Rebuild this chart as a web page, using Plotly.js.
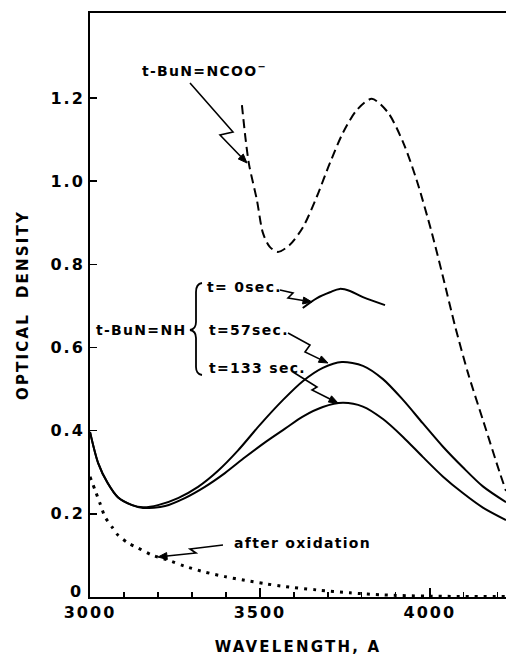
<!DOCTYPE html>
<html><head><meta charset="utf-8">
<script src="https://cdn.plot.ly/plotly-3.0.1.min.js"></script>
<style>
html,body{margin:0;padding:0;background:#fff;}
#chart{width:506px;height:658px;}
.xtitle,.ytitle{letter-spacing:2.2px;}
.xtick text,.ytick text{letter-spacing:2px;}
.annotation-text{letter-spacing:1.3px;}
</style></head><body><div id="chart"></div>
<script>
// ---- data (wavelength in Å, optical density) ----
const wlNCOO = [3447,3458,3468,3491,3509,3529,3553,3588,3627,3667,3706,3744,3785,3829,3876,3921,3961,4006,4038,4074,4112,4156,4206,4224];
const odNCOO = [1.183,1.10,1.040,0.955,0.875,0.842,0.830,0.847,0.890,0.962,1.044,1.116,1.171,1.198,1.166,1.094,1.003,0.875,0.772,0.652,0.539,0.426,0.298,0.255];

const wlT0 = [3626,3668,3706,3735,3765,3803,3868];
const odT0 = [0.695,0.719,0.733,0.741,0.736,0.721,0.702];

const wlT57 = [3000,3024,3052,3082,3124,3156,3200,3259,3318,3376,3435,3500,3568,3626,3685,3741,3803,3862,3921,3979,4038,4097,4156,4224];
const odT57 = [0.397,0.322,0.274,0.240,0.221,0.216,0.221,0.238,0.265,0.303,0.352,0.414,0.474,0.519,0.551,0.565,0.556,0.524,0.474,0.418,0.362,0.312,0.266,0.228];

const wlT133 = [3000,3024,3052,3082,3124,3156,3221,3279,3338,3397,3456,3515,3574,3626,3685,3744,3803,3862,3921,3979,4038,4097,4156,4224];
const odT133 = [0.397,0.322,0.274,0.240,0.221,0.214,0.219,0.238,0.265,0.298,0.336,0.372,0.405,0.434,0.457,0.467,0.458,0.428,0.385,0.337,0.290,0.250,0.215,0.185];

const wlOx = [3000,3015,3029,3044,3065,3082,3112,3141,3182,3229,3279,3338,3397,3456,3515,3565,3667,3765,3862,4000,4224];
const odOx = [0.289,0.257,0.226,0.193,0.168,0.149,0.130,0.118,0.101,0.089,0.074,0.060,0.049,0.040,0.032,0.026,0.017,0.010,0.005,0.002,0.001];

const xTickVals = [3000,3500,4000];
const xTickText = ['3000','3500','4000'];
const yTickVals = [0.2,0.4,0.6,0.8,1.0,1.2];
const yTickText = ['0.2','0.4','0.6','0.8','1.0','1.2'];
const yZeroLabel = '0';

// ---- layout helpers (pixel -> data for decorations) ----
const L = 90, T = 13, B = 61, W = 506, H = 658;
const XMIN = 3000, XMAX = 4224, YMIN = 0, YMAX = 1.4045;
const plotW = W - L, plotH = H - T - B;
function X(px){ return XMIN + (px - L) / plotW * (XMAX - XMIN); }
function Y(py){ return YMAX - (py - T) / plotH * (YMAX - YMIN); }
function P(q){ return X(q[0]) + ',' + Y(q[1]); }

const FONT = "DejaVu Sans";
const black = '#000';

const traces = [
  {x: wlNCOO, y: odNCOO, mode:'lines', line:{color:black, width:2, dash:'9px,5px', shape:'spline', smoothing:0.8}},
  {x: wlT0, y: odT0, mode:'lines', line:{color:black, width:2, shape:'spline'}},
  {x: wlT57, y: odT57, mode:'lines', line:{color:black, width:2, shape:'spline', smoothing:0.8}},
  {x: wlT133, y: odT133, mode:'lines', line:{color:black, width:2, shape:'spline', smoothing:0.8}},
  {x: wlOx, y: odOx, mode:'lines', line:{color:black, width:3, dash:'3px,6px', shape:'spline', smoothing:0.8}}
];

// lightning arrows: [start, kink1, kink2, tip] in pixels
const arrows = [
  [[190,83],[233,132],[220,135],[247,163]],
  [[280,290],[293,293],[288,298],[312,302]],
  [[288,333],[310,345],[305,352],[328,363]],
  [[293,372],[317,387],[312,390],[338,403]],
  [[223,545],[190,549],[196,553],[158,557]]
];
const shapes = [];
const annotations = [];
arrows.forEach(a => {
  const t = a[3], k = a[2];
  let dx = t[0]-k[0], dy = t[1]-k[1];
  const len = Math.hypot(dx,dy); dx/=len; dy/=len;
  const hl = 9, hw = 3.5;
  const base = [t[0]-dx*hl, t[1]-dy*hl];
  const p1 = [base[0]-dy*hw, base[1]+dx*hw], p2 = [base[0]+dy*hw, base[1]-dx*hw];
  shapes.push({type:'path', xref:'x', yref:'y',
    path:'M'+P(a[0])+' L'+P(a[1])+' L'+P(a[2])+' L'+P(base), line:{color:black, width:1.6}});
  shapes.push({type:'path', xref:'x', yref:'y',
    path:'M'+P(t)+' L'+P(p1)+' L'+P(p2)+' Z', line:{color:black, width:1}, fillcolor:black});
});
// brace
const br = [[202,283],[196,284],[196,292],[196,322],[196,329],[190,330],[196,331],[196,338],[196,367],[196,374],[202,375]];
shapes.push({type:'path', xref:'x', yref:'y',
  path:'M'+P(br[0])+' Q'+P(br[1])+' '+P(br[2])+' L'+P(br[3])+' Q'+P(br[4])+' '+P(br[5])+' Q'+P(br[6])+' '+P(br[7])+' L'+P(br[8])+' Q'+P(br[9])+' '+P(br[10]),
  line:{color:black, width:1.8}});

const af = {family:FONT, size:14, weight:'bold', color:black};
const labels = [
  {px:140, py:70, text:'t-BuN=NCOO<sup>−</sup>', anchor:'left'},
  {px:188, py:330, text:'t-BuN=NH', anchor:'right'},
  {px:205, py:287, text:'t= 0sec.', anchor:'left'},
  {px:207, py:330, text:'t=57sec.', anchor:'left'},
  {px:207, py:368, text:'t=133 sec.', anchor:'left'},
  {px:232, py:543, text:'after oxidation', anchor:'left'}
];
labels.forEach(l => annotations.push({x:X(l.px), y:Y(l.py), xref:'x', yref:'y', text:l.text,
  xanchor:l.anchor, yanchor:'middle', showarrow:false, font:af}));
// y-axis zero label, raised slightly above the axis as in the original
annotations.push({x:0, xref:'paper', xanchor:'right', xshift:-6, y:Y(591), yref:'y', yanchor:'middle',
  text:yZeroLabel, showarrow:false, font:{family:FONT, size:16, weight:'bold', color:black}});

const layout = {
  width:W, height:H,
  margin:{l:L, r:0, t:T, b:B, pad:0},
  paper_bgcolor:'#fff', plot_bgcolor:'#fff',
  showlegend:false,
  font:{family:FONT, color:black},
  xaxis:{range:[XMIN,XMAX], showline:true, linecolor:black, linewidth:2, mirror:true,
    showgrid:false, zeroline:false, ticks:'inside', ticklen:9, tickwidth:1.5, tickcolor:black,
    tickmode:'array', tickvals:xTickVals, ticktext:xTickText,
    minor:{ticks:'inside', tickmode:'linear', tick0:3000, dtick:100, ticklen:5, tickwidth:1.2, tickcolor:black, showgrid:false},
    tickfont:{family:FONT, size:16, weight:'bold', color:black},
    title:{text:'WAVELENGTH, A', font:{family:FONT, size:15, weight:'bold', color:black}, standoff:20}},
  yaxis:{range:[YMIN,YMAX], showline:true, linecolor:black, linewidth:2, mirror:false,
    showgrid:false, zeroline:false, ticks:'inside', ticklen:7, tickwidth:1.5, tickcolor:black,
    tickmode:'array', tickvals:yTickVals, ticktext:yTickText,
    tickfont:{family:FONT, size:16, weight:'bold', color:black},
    title:{text:'OPTICAL  DENSITY', font:{family:FONT, size:15, weight:'bold', color:black}, standoff:18}},
  shapes:shapes,
  annotations:annotations
};

Plotly.newPlot('chart', traces, layout, {displayModeBar:false, staticPlot:true});
</script></body></html>
